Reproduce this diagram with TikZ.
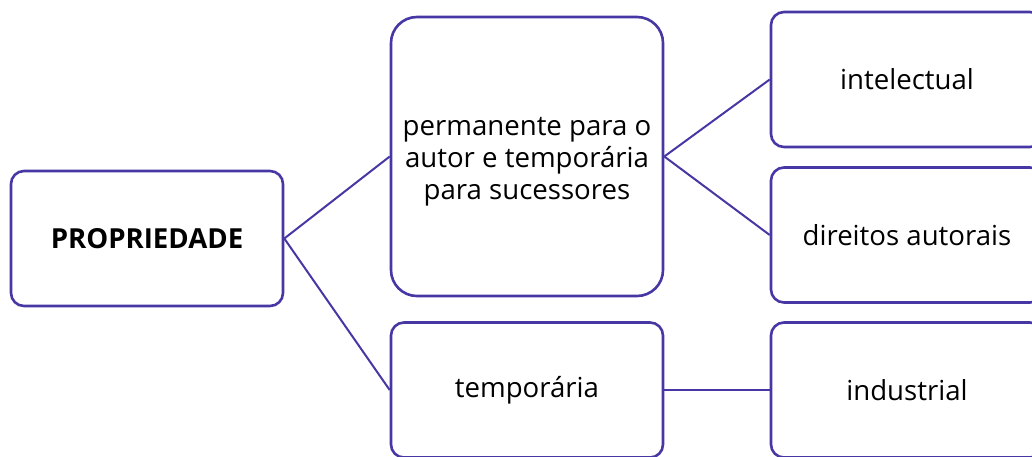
\documentclass[tikz,border=0pt]{standalone}
\usepackage{fontspec}
\setmainfont{Open Sans}
\definecolor{edge}{RGB}{70,55,165}
\begin{document}
\begin{tikzpicture}[x=1pt,y=-1pt,
  box/.style={draw=edge,line width=2.6pt,fill=white,rounded corners=13pt,
    minimum width=272pt,minimum height=135pt,inner sep=0pt,align=center,
    font=\fontsize{27.6}{32}\selectfont},
  conn/.style={draw=edge,line width=2pt}]
\useasboundingbox (0,0) rectangle (1032,456);
\clip (0,0) rectangle (1032,456);
\node[box] (prop) at (147,238.5) {\textbf{PROPRIEDADE}};
\node[box,minimum height=279pt,rounded corners=26pt] (perm) at (527,156.5) {\raisebox{-5pt}[\height][\depth]{\begin{tabular}{@{}c@{}}permanente para o\\autor e temporária\\para sucessores\end{tabular}}};
\node[box] (temp) at (527,390) {temporária};
\node[box] (int) at (907,79.5) {intelectual};
\node[box] (dir) at (907,235) {direitos autorais};
\node[box] (ind) at (907,390) {industrial};
\draw[conn] (prop.east) -- (perm.west);
\draw[conn] (prop.east) -- (temp.west);
\draw[conn] (perm.east) -- (int.west);
\draw[conn] (perm.east) -- (dir.west);
\draw[conn] (temp.east) -- (ind.west);
\end{tikzpicture}
\end{document}
